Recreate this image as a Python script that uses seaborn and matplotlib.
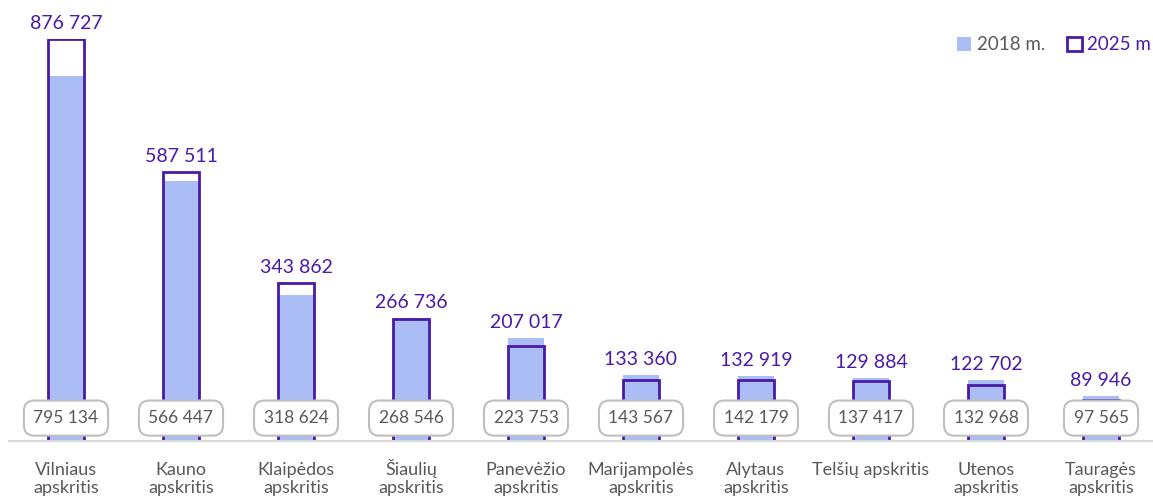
import matplotlib
matplotlib.use("Agg")
import matplotlib.pyplot as plt
import seaborn as sns
import pandas as pd

# Data
regions = ["Vilniaus\napskritis", "Kauno\napskritis", "Klaipėdos\napskritis", "Šiaulių\napskritis",
           "Panevėžio\napskritis", "Marijampolės\napskritis", "Alytaus\napskritis",
           "Telšių apskritis", "Utenos\napskritis", "Tauragės\napskritis"]
pop_2018 = [795134, 566447, 318624, 268546, 223753, 143567, 142179, 137417, 132968, 97565]
pop_2025 = [876727, 587511, 343862, 266736, 207017, 133360, 132919, 129884, 122702, 89946]

fill_col = "#AABDF5"
purple = "#4A1AA8"
grey_txt = "#595959"

df = pd.DataFrame({"region": regions, "y2018": pop_2018, "y2025": pop_2025})

sns.set_theme(style="white")
plt.rcParams["font.family"] = ["Lato", "DejaVu Sans"]

fig = plt.figure(figsize=(11.53, 4.97), dpi=100)
ax = fig.add_axes([8.5 / 1153, 56 / 497, 1150 / 1153, 402 / 497])

sns.barplot(data=df, x="region", y="y2018", color=fill_col, saturation=1, width=0.31, ax=ax,
            linewidth=0, label="2018 m.")
sns.barplot(data=df, x="region", y="y2025", fill=False, color=purple, saturation=1, width=0.31,
            ax=ax, linewidth=2, label="2025 m")

ax.set_xlim(-0.5, 9.5)
ax.set_ylim(0, max(pop_2025))
ax.set_xlabel("")
ax.set_ylabel("")
ax.set_yticks([])
ax.set_xticklabels([])
ax.tick_params(axis="x", length=0)

for s in ["top", "left", "right"]:
    ax.spines[s].set_visible(False)
ax.spines["bottom"].set_color("#D9D9D9")
ax.spines["bottom"].set_linewidth(1.5)

# category labels, one text per line so the diacritics don't shift the lines
for i, name in enumerate(regions):
    for j, line in enumerate(name.split("\n")):
        ax.annotate(line, (i, 0), xytext=(0, -24.5 - 13 * j), textcoords="offset points",
                    ha="center", va="baseline", fontsize=13, color=grey_txt,
                    annotation_clip=False)

fmt = lambda v: f"{v:,}".replace(",", " ")

# value labels
for i, (a, b) in enumerate(zip(pop_2018, pop_2025)):
    ax.annotate(fmt(b), (i, max(a, b)), xytext=(0, 5), textcoords="offset points",
                ha="center", va="bottom", fontsize=14, color=purple, annotation_clip=False)
    ax.text(i, 0.057, fmt(a), transform=ax.get_xaxis_transform(),
            ha="center", va="center", fontsize=12.5, color=grey_txt,
            bbox=dict(boxstyle="round,pad=0.55,rounding_size=0.6", fc="white", ec="#BFBFBF", lw=1.5))

leg = ax.legend(loc="upper right", bbox_to_anchor=(1.0, 1.025), ncol=2, frameon=False,
                fontsize=13.5, handlelength=0.75, handleheight=0.75, handletextpad=0.3,
                columnspacing=1.2, borderaxespad=0)
leg.get_texts()[0].set_color(grey_txt)
leg.get_texts()[1].set_color(purple)

fig.savefig("out.png", dpi=100)
